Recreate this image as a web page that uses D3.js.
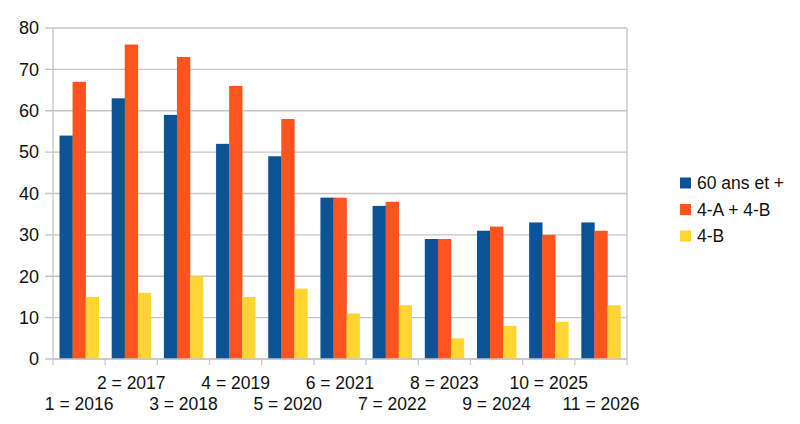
<!DOCTYPE html>
<html>
<head>
<meta charset="utf-8">
<script src="https://cdn.jsdelivr.net/npm/d3@7"></script>
<style>
  body { margin: 0; background: #fff; }
  text { font-family: "Liberation Sans", Arial, sans-serif; fill: #111; }
</style>
</head>
<body>
<div id="chart"></div>
<script>
// Data
const categories = ["1 = 2016", "2 = 2017", "3 = 2018", "4 = 2019", "5 = 2020", "6 = 2021",
                    "7 = 2022", "8 = 2023", "9 = 2024", "10 = 2025", "11 = 2026"];
const seriesNames = ["60 ans et +", "4-A + 4-B", "4-B"];
const senior = [54, 63, 59, 52, 49, 39, 37, 29, 31, 33, 33];
const groupAB = [67, 76, 73, 66, 58, 39, 38, 29, 32, 30, 31];
const groupB = [15, 16, 20, 15, 17, 11, 13, 5, 8, 9, 13];
const yTicks = [0, 10, 20, 30, 40, 50, 60, 70, 80];

const seriesValues = [senior, groupAB, groupB];
const colors = ["#0a5394", "#ff5420", "#ffd534"];

const width = 800, height = 424;
const plot = { left: 53, right: 627, top: 28, bottom: 359 };

const svg = d3.select("#chart")
    .append("svg")
    .attr("width", width)
    .attr("height", height);

// Scales
const x = d3.scaleBand()
    .domain(categories)
    .range([plot.left, plot.right])
    .paddingInner(0.25)
    .paddingOuter(0.125);

const xInner = d3.scaleBand()
    .domain(d3.range(seriesNames.length))
    .range([0, x.bandwidth()]);

const y = d3.scaleLinear().domain([0, 80]).range([plot.bottom, plot.top]);

// Grid lines + y tick marks
svg.selectAll(".grid")
    .data(yTicks)
    .enter()
    .append("line")
    .attr("x1", plot.left - 8)
    .attr("x2", plot.right)
    .attr("y1", d => y(d))
    .attr("y2", d => y(d))
    .attr("stroke", "#c6c6c6")
    .attr("stroke-width", 1.3);

// Y labels
svg.selectAll(".ylabel")
    .data(yTicks)
    .enter()
    .append("text")
    .attr("x", 39)
    .attr("y", d => y(d))
    .attr("dy", "0.35em")
    .attr("text-anchor", "end")
    .style("font-size", "18px")
    .text(d => d);

// Bars
const rows = categories.map((c, i) => ({ cat: c, values: seriesValues.map(s => s[i]) }));

const groups = svg.selectAll(".group")
    .data(rows)
    .enter()
    .append("g")
    .attr("transform", d => `translate(${x(d.cat)},0)`);

groups.selectAll("rect")
    .data(d => d.values.map((v, k) => ({ k, v })))
    .enter()
    .append("rect")
    .attr("x", d => xInner(d.k))
    .attr("width", xInner.bandwidth() + 0.3)
    .attr("y", d => y(d.v))
    .attr("height", d => y(0) - y(d.v))
    .attr("fill", d => colors[d.k]);

// Axis lines and plot frame (left, bottom, right)
svg.append("line")
    .attr("x1", plot.left).attr("x2", plot.left)
    .attr("y1", plot.top).attr("y2", plot.bottom)
    .attr("stroke", "#c6c6c6").attr("stroke-width", 1.3);
svg.append("line")
    .attr("x1", plot.right).attr("x2", plot.right)
    .attr("y1", plot.top).attr("y2", plot.bottom + 6)
    .attr("stroke", "#c6c6c6").attr("stroke-width", 1.3);
svg.append("line")
    .attr("x1", plot.left).attr("x2", plot.right)
    .attr("y1", plot.bottom).attr("y2", plot.bottom)
    .attr("stroke", "#c6c6c6").attr("stroke-width", 1.3);

// X tick marks at category boundaries
svg.selectAll(".xtick")
    .data(categories)
    .enter()
    .append("line")
    .attr("x1", d => x(d) - x.step() * 0.125)
    .attr("x2", d => x(d) - x.step() * 0.125)
    .attr("y1", plot.bottom)
    .attr("y2", plot.bottom + 6)
    .attr("stroke", "#c6c6c6")
    .attr("stroke-width", 1.3);

// X labels, staggered on two rows
svg.selectAll(".xlabel")
    .data(categories)
    .enter()
    .append("text")
    .attr("x", d => x(d) + x.bandwidth() / 2)
    .attr("y", (d, i) => i % 2 === 1 ? 389 : 410)
    .attr("text-anchor", "middle")
    .style("font-size", "17.5px")
    .text(d => d);

// Legend
const legend = svg.selectAll(".legend")
    .data(seriesNames)
    .enter()
    .append("g")
    .attr("transform", (d, i) => `translate(680, ${183 + i * 26.5})`);

legend.append("rect")
    .attr("x", 0)
    .attr("y", -5.5)
    .attr("width", 11)
    .attr("height", 11)
    .attr("fill", (d, i) => colors[i]);

legend.append("text")
    .attr("x", 17)
    .attr("dy", "0.35em")
    .style("font-size", "17.5px")
    .text(d => d);
</script>
</body>
</html>
